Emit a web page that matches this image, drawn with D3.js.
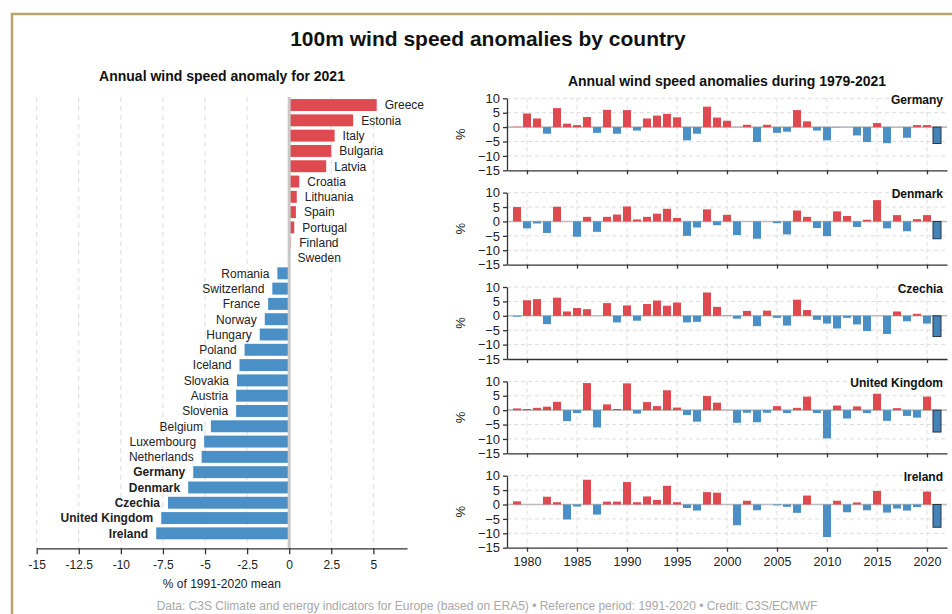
<!DOCTYPE html>
<html>
<head>
<meta charset="utf-8">
<script src="https://cdn.jsdelivr.net/npm/d3@7"></script>
<style>
  html, body { margin: 0; padding: 0; background: #fff; }
  svg { display: block; font-family: "Liberation Sans", Arial, Helvetica, sans-serif; }
</style>
</head>
<body>
<svg id="chart" width="952" height="614"></svg>
<script>
// ---- 2021 anomaly by country (% of 1991-2020 mean) ----
const countries2021 = ["Greece", "Estonia", "Italy", "Bulgaria", "Latvia", "Croatia", "Lithuania", "Spain",
  "Portugal", "Finland", "Sweden", "Romania", "Switzerland", "France", "Norway", "Hungary", "Poland",
  "Iceland", "Slovakia", "Austria", "Slovenia", "Belgium", "Luxembourg", "Netherlands", "Germany",
  "Denmark", "Czechia", "United Kingdom", "Ireland"];
const anomaly2021 = [5.2, 3.8, 2.7, 2.5, 2.2, 0.6, 0.45, 0.4, 0.3, 0.12, 0.02, -0.7, -1.0, -1.25, -1.45,
  -1.75, -2.65, -2.95, -3.1, -3.15, -3.15, -4.65, -5.05, -5.2, -5.7, -6.0, -7.2, -7.6, -7.9];
const highlighted = ["Germany", "Denmark", "Czechia", "United Kingdom", "Ireland"];
const anomalyTicks = [-15, -12.5, -10, -7.5, -5, -2.5, 0, 2.5, 5];

// ---- annual anomalies 1979-2021 (% of 1991-2020 mean) ----
const years = [1979, 1980, 1981, 1982, 1983, 1984, 1985, 1986, 1987, 1988, 1989, 1990, 1991, 1992, 1993,
  1994, 1995, 1996, 1997, 1998, 1999, 2000, 2001, 2002, 2003, 2004, 2005, 2006, 2007, 2008, 2009, 2010,
  2011, 2012, 2013, 2014, 2015, 2016, 2017, 2018, 2019, 2020, 2021];
const germany = [0.2, 4.7, 3.0, -2.3, 6.6, 1.2, 0.7, 3.5, -2.0, 6.0, -2.3, 5.9, -1.2, 3.0, 4.0, 4.6, 3.4,
  -4.6, -2.3, 7.1, 3.3, 2.2, 0.1, 0.8, -5.2, 0.8, -2.0, -1.6, 5.9, 2.0, -1.2, -4.6, -0.2, -0.1, -2.9,
  -5.2, 1.4, -5.6, 0.0, -3.7, 0.7, 0.7, -5.7];
const denmark = [5.0, -2.4, -0.7, -4.0, 5.1, 0.1, -5.3, 1.6, -3.6, 1.6, 2.4, 5.2, 0.7, 1.6, 2.7, 4.4, 1.2,
  -5.0, -2.1, 4.2, -1.3, 2.3, -4.7, 0.0, -6.0, 0.0, -0.6, -4.5, 3.8, 1.6, -2.3, -5.1, 3.5, 1.9, -1.9,
  0.6, 7.4, -2.4, 2.2, -3.4, 0.8, 2.2, -6.0];
const czechia = [-0.3, 5.4, 5.8, -2.9, 6.3, 1.5, 2.7, 2.3, 0.0, 4.4, -2.3, 3.6, -1.7, 4.1, 5.3, 3.5, 4.6,
  -2.3, -2.1, 8.1, 3.1, 0.2, -1.0, 1.7, -3.6, 1.8, -0.7, -3.4, 5.6, 2.0, -1.4, -2.7, -4.4, -0.7, -3.0,
  -5.3, 0.0, -6.3, 1.5, -1.9, 0.7, -2.7, -7.2];
const unitedKingdom = [0.6, 0.4, 0.8, 1.2, 2.9, -3.8, -1.0, 9.4, -6.0, 2.0, 0.4, 9.3, -1.2, 2.8, 1.4, 6.9,
  0.9, -1.7, -4.0, 4.9, 2.6, 0.1, -4.4, -0.9, -4.2, -0.9, 1.4, -1.0, 0.8, 4.7, -1.0, -9.8, 1.6, -2.9,
  1.3, -1.0, 5.7, -3.7, 0.7, -2.0, -2.6, 4.7, -7.6];
const ireland = [1.1, 0.0, 0.0, 2.7, 0.8, -5.2, -0.7, 8.6, -3.5, 1.0, 1.0, 7.8, 0.8, 2.8, 1.6, 6.5, 0.8,
  -1.2, -2.1, 4.3, 4.1, 0.0, -7.2, 1.3, -2.0, 0.0, -0.3, -0.8, -2.9, 3.1, 0.0, -11.3, 1.3, -2.7, 0.7,
  -2.0, 4.7, -2.8, -1.4, -2.1, -0.9, 4.5, -7.9];
const panelNames = ["Germany", "Denmark", "Czechia", "United Kingdom", "Ireland"];
const panelSeries = [germany, denmark, czechia, unitedKingdom, ireland];
const percentTicks = [10, 5, 0, -5, -10, -15];
const yearTicks = [1980, 1985, 1990, 1995, 2000, 2005, 2010, 2015, 2020];

// ---- styling ----
const RED = "#df4a51", BLUE = "#4a8fc5";
const GRID = "#dcdcdc", AXIS = "#333";
// near-zero anomalies fade towards a pale tint
function barColor(v) {
  const base = v >= 0 ? RED : BLUE;
  const t = Math.min(1, Math.abs(v) / 0.3);
  return d3.interpolateRgb(v >= 0 ? "#f7dcdc" : "#d8e7f3", base)(t);
}
const minusFmt = d => d < 0 ? "\u2212" + Math.abs(d) : String(d);

const svg = d3.select("#chart");
svg.append("rect").attr("width", 952).attr("height", 614).attr("fill", "#fff");

// decorative frame
svg.append("path").attr("d", "M12,614V14H952")
  .attr("fill", "none").attr("stroke", "#b9a36f").attr("stroke-width", 2.5);

// titles
svg.append("text").attr("x", 488).attr("y", 45.5).attr("text-anchor", "middle")
  .attr("font-size", 21).attr("font-weight", "bold").attr("fill", "#111")
  .text("100m wind speed anomalies by country");
svg.append("text").attr("x", 222).attr("y", 80.5).attr("text-anchor", "middle")
  .attr("font-size", 14).attr("font-weight", "bold").attr("fill", "#111")
  .text("Annual wind speed anomaly for 2021");
svg.append("text").attr("x", 727).attr("y", 86).attr("text-anchor", "middle")
  .attr("font-size", 14).attr("font-weight", "bold").attr("fill", "#111")
  .text("Annual wind speed anomalies during 1979-2021");

// ================= left: 2021 ranking =================
const xL = d3.scaleLinear().domain([-15, 7]).range([36.7, 407]);
const yL = d3.scaleBand().domain(countries2021).range([97.4, 541]).paddingInner(0.22).paddingOuter(0.11);
const leftBottom = 548.3;
const left = svg.append("g");

left.append("g").selectAll("line").data(anomalyTicks.filter(d => d !== 0)).join("line")
  .attr("x1", d => xL(d)).attr("x2", d => xL(d))
  .attr("y1", 97).attr("y2", leftBottom)
  .attr("stroke", GRID).attr("stroke-width", 1).attr("stroke-dasharray", "5,4");

left.append("g").selectAll("rect").data(countries2021).join("rect")
  .attr("x", (d, i) => Math.min(xL(0), xL(anomaly2021[i])))
  .attr("width", (d, i) => Math.abs(xL(anomaly2021[i]) - xL(0)))
  .attr("y", d => yL(d)).attr("height", yL.bandwidth())
  .attr("fill", (d, i) => barColor(anomaly2021[i]));

left.append("line").attr("x1", xL(0)).attr("x2", xL(0)).attr("y1", 97).attr("y2", leftBottom)
  .attr("stroke", "#c8c8c8").attr("stroke-width", 3);

left.append("g").selectAll("text").data(countries2021).join("text")
  .attr("x", (d, i) => anomaly2021[i] >= 0 ? xL(anomaly2021[i]) + 8 : xL(anomaly2021[i]) - 8)
  .attr("y", d => yL(d) + yL.bandwidth() / 2).attr("dy", "0.36em")
  .attr("text-anchor", (d, i) => anomaly2021[i] >= 0 ? "start" : "end")
  .attr("font-size", 12).attr("fill", "#222")
  .attr("font-weight", d => highlighted.includes(d) ? "bold" : "normal")
  .text(d => d);

const axL = left.append("g").attr("transform", `translate(0,${leftBottom})`)
  .call(d3.axisBottom(xL).tickValues(anomalyTicks).tickSize(6).tickSizeOuter(0).tickPadding(6)
    .tickFormat(d => String(d)));
axL.attr("font-family", null);
axL.select(".domain").attr("stroke", AXIS).attr("stroke-width", 1.3);
axL.selectAll(".tick line").attr("stroke", AXIS).attr("stroke-width", 1.3);
axL.selectAll(".tick text").attr("font-size", 12).attr("fill", "#222");

svg.append("text").attr("x", xL(-15) + (xL(7) - xL(-15)) / 2).attr("y", 587.5)
  .attr("text-anchor", "middle").attr("font-size", 12).attr("fill", "#222")
  .text("% of 1991-2020 mean");

// ================= right: small multiples =================
const xR = d3.scaleLinear().domain([1978, 2022]).range([507, 947]);
const panelH = 72, panelStep = 94.35, firstTop = 98.3;
const barW = 8;

panelSeries.forEach((series, p) => {
  const top = firstTop + p * panelStep;
  const yR = d3.scaleLinear().domain([-15, 10]).range([top + panelH, top]);
  const g = svg.append("g");

  // dashed grid
  g.append("g").selectAll("line").data([10, 5, -5, -10]).join("line")
    .attr("x1", xR(1978)).attr("x2", xR(2022)).attr("y1", d => yR(d)).attr("y2", d => yR(d))
    .attr("stroke", GRID).attr("stroke-dasharray", "4,3");
  g.append("g").selectAll("line").data(yearTicks).join("line")
    .attr("x1", d => xR(d)).attr("x2", d => xR(d)).attr("y1", top).attr("y2", top + panelH)
    .attr("stroke", GRID).attr("stroke-dasharray", "4,3");

  // zero line
  g.append("line").attr("x1", xR(1978)).attr("x2", xR(2022)).attr("y1", yR(0)).attr("y2", yR(0))
    .attr("stroke", "#bdbdbd").attr("stroke-width", 1.6);

  // bars; the latest year is outlined
  g.append("g").selectAll("rect").data(years).join("rect")
    .attr("x", d => xR(d) - barW / 2).attr("width", barW)
    .attr("y", (d, i) => Math.min(yR(0), yR(series[i])))
    .attr("height", (d, i) => Math.abs(yR(series[i]) - yR(0)))
    .attr("fill", (d, i) => d === 2021 ? "#4383b8" : barColor(series[i]))
    .attr("stroke", d => d === 2021 ? "#2a3540" : "none")
    .attr("stroke-width", d => d === 2021 ? 1 : 0);

  // axes
  const ay = g.append("g").attr("transform", `translate(${xR(1978)},0)`)
    .call(d3.axisLeft(yR).tickValues(percentTicks).tickSize(4).tickSizeOuter(0).tickPadding(3)
      .tickFormat(minusFmt));
  ay.attr("font-family", null);
  ay.select(".domain").attr("stroke", AXIS).attr("stroke-width", 1.3);
  ay.selectAll(".tick line").attr("stroke", AXIS).attr("stroke-width", 1.3);
  ay.selectAll(".tick text").attr("font-size", 13).attr("fill", "#222");

  const ax = g.append("g").attr("transform", `translate(0,${top + panelH})`)
    .call(d3.axisBottom(xR).tickValues(yearTicks).tickSize(4).tickSizeOuter(0).tickPadding(5)
      .tickFormat(p === panelSeries.length - 1 ? d => String(d) : () => ""));
  ax.attr("font-family", null);
  ax.select(".domain").attr("stroke", AXIS).attr("stroke-width", 1.3);
  ax.selectAll(".tick line").attr("stroke", AXIS).attr("stroke-width", 1.3);
  ax.selectAll(".tick text").attr("font-size", 12.5).attr("fill", "#222");

  // "%" label
  g.append("text").attr("transform", `translate(465,${top + panelH / 2}) rotate(-90)`)
    .attr("text-anchor", "middle").attr("font-size", 13).attr("fill", "#222").text("%");

  // country name
  g.append("text").attr("x", 943).attr("y", top + 5.5).attr("text-anchor", "end")
    .attr("font-size", 12).attr("font-weight", "bold").attr("fill", "#111").text(panelNames[p]);
});

// source line
svg.append("text").attr("x", 487).attr("y", 609.5).attr("text-anchor", "middle")
  .attr("font-size", 12).attr("fill", "#a8a8a8")
  .text("Data: C3S Climate and energy indicators for Europe (based on ERA5) \u2022 Reference period: 1991-2020 \u2022 Credit: C3S/ECMWF");
</script>
</body>
</html>
